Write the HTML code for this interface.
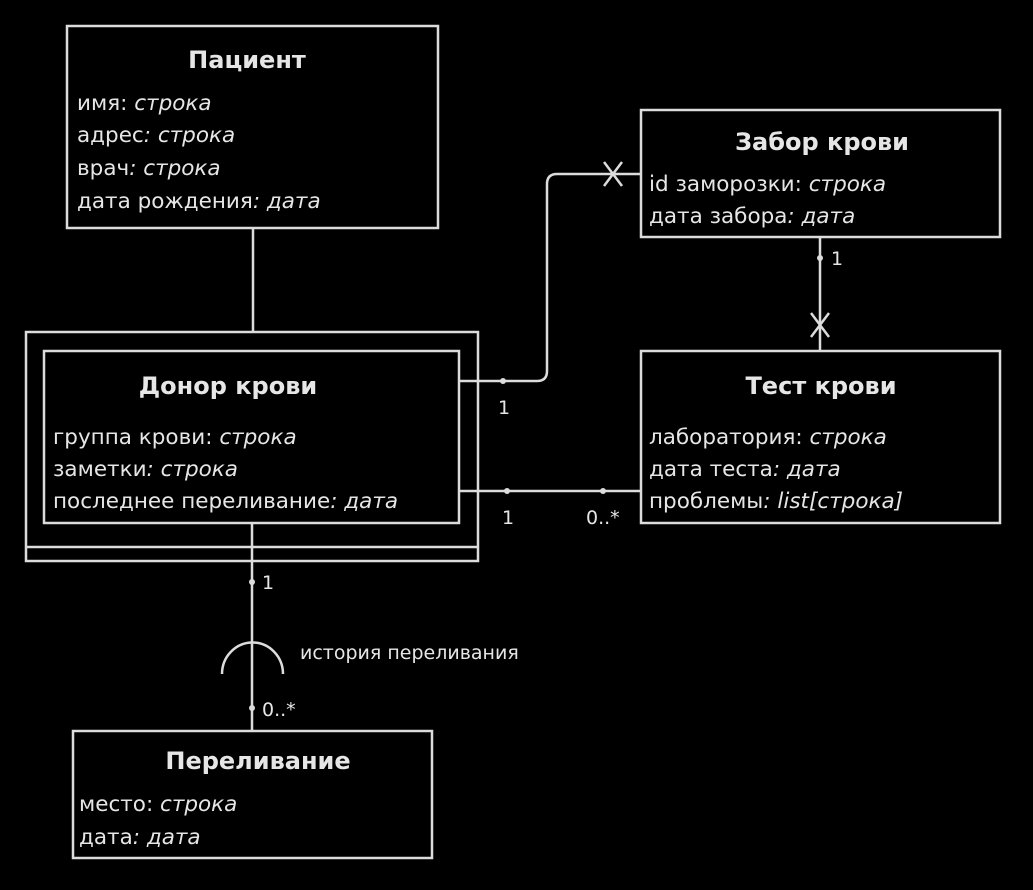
<!DOCTYPE html>
<html><head><meta charset="utf-8"><style>
body{margin:0;background:#000;width:1033px;height:885px;overflow:hidden}
text{font-family:"DejaVu Sans","Liberation Sans",sans-serif;fill:#e6e6e6}
.t{font-weight:bold;font-size:24px;text-anchor:middle}
.a{font-size:21.5px}
.l{font-size:19px}
</style></head><body>
<svg width="1033" height="885" xmlns="http://www.w3.org/2000/svg">
<g fill="none" stroke="#dcdcdc" stroke-width="2.5">
<rect x="67" y="26" width="371" height="202"/>
<rect x="641" y="110" width="359" height="127"/>
<rect x="26" y="332" width="452" height="229"/>
<line x1="26" y1="547" x2="478" y2="547"/>
<rect x="44" y="351" width="415" height="172"/>
<rect x="641" y="351" width="359" height="172"/>
<rect x="73" y="731" width="359" height="127"/>
<line x1="253" y1="228" x2="253" y2="332"/>
<path d="M459 381 H537 Q547 381 547 371 V184 Q547 174 557 174 H641"/>
<path d="M604 162 L622 186 M622 162 L604 186"/>
<line x1="820" y1="237" x2="820" y2="351"/>
<path d="M811 313 L829 337 M829 313 L811 337"/>
<line x1="459" y1="491" x2="641" y2="491"/>
<line x1="252" y1="523" x2="252" y2="731"/>
<path d="M222 674 A30 31 0 0 1 283 674"/>
</g>
<g fill="#dcdcdc">
<circle cx="503" cy="381" r="3"/><circle cx="820" cy="258" r="3"/>
<circle cx="507" cy="491" r="3"/><circle cx="603" cy="491" r="3"/>
<circle cx="252" cy="582" r="3"/><circle cx="252" cy="708" r="3"/>
</g>
<text class="t" x="247" y="68">Пациент</text>
<text class="a" x="77" y="110">имя: <tspan font-style="italic">строка</tspan></text>
<text class="a" x="77" y="142">адрес<tspan font-style="italic">: строка</tspan></text>
<text class="a" x="77" y="175">врач<tspan font-style="italic">: строка</tspan></text>
<text class="a" x="77" y="208">дата рождения<tspan font-style="italic">: дата</tspan></text>
<text class="t" x="822" y="150">Забор крови</text>
<text class="a" x="649" y="191">id заморозки: <tspan font-style="italic">строка</tspan></text>
<text class="a" x="649" y="223">дата забора<tspan font-style="italic">: дата</tspan></text>
<text class="t" x="228" y="394">Донор крови</text>
<text class="a" x="53" y="444">группа крови: <tspan font-style="italic">строка</tspan></text>
<text class="a" x="53" y="476">заметки<tspan font-style="italic">: строка</tspan></text>
<text class="a" x="53" y="508">последнее переливание<tspan font-style="italic">: дата</tspan></text>
<text class="t" x="821" y="394">Тест крови</text>
<text class="a" x="649" y="444">лаборатория: <tspan font-style="italic">строка</tspan></text>
<text class="a" x="649" y="476">дата теста<tspan font-style="italic">: дата</tspan></text>
<text class="a" x="649" y="508">проблемы<tspan font-style="italic">: list[строка]</tspan></text>
<text class="t" x="258" y="769">Переливание</text>
<text class="a" x="79" y="811">место: <tspan font-style="italic">строка</tspan></text>
<text class="a" x="79" y="844">дата<tspan font-style="italic">: дата</tspan></text>
<text class="l" x="498" y="414">1</text>
<text class="l" x="831" y="265">1</text>
<text class="l" x="502" y="524">1</text>
<text class="l" x="586" y="524">0..*</text>
<text class="l" x="262" y="589">1</text>
<text class="l" x="262" y="716">0..*</text>
<text class="l" x="300" y="659">история переливания</text>
</svg>
</body></html>
